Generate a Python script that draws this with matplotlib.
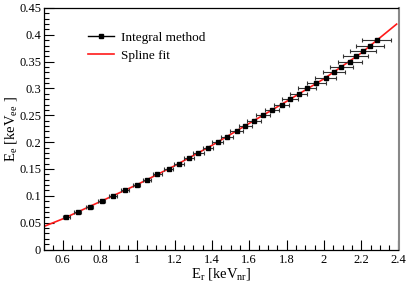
import matplotlib
matplotlib.use("Agg")
import matplotlib.pyplot as plt
from matplotlib.ticker import MultipleLocator, FuncFormatter
from matplotlib.lines import Line2D

plt.rcParams['font.family'] = ['Liberation Serif', 'DejaVu Serif']
plt.rcParams['mathtext.fontset'] = 'custom'
plt.rcParams['mathtext.rm'] = 'Liberation Serif'
plt.rcParams['mathtext.it'] = 'Liberation Serif:italic'

# Integral method points
ee_vals = [0.06, 0.07, 0.08, 0.09, 0.10, 0.11, 0.12, 0.13, 0.14, 0.15, 0.16, 0.17,
           0.18, 0.19, 0.20, 0.21, 0.22, 0.23, 0.24, 0.25, 0.26, 0.27, 0.28, 0.29,
           0.30, 0.31, 0.32, 0.33, 0.34, 0.35, 0.36, 0.37, 0.38, 0.39]
er_vals = [0.619, 0.680, 0.746, 0.809, 0.871, 0.934, 0.996, 1.054, 1.107, 1.168, 1.224, 1.278,
           1.328, 1.380, 1.430, 1.481, 1.532, 1.579, 1.626, 1.674, 1.722, 1.773, 1.819, 1.865,
           1.912, 1.960, 2.011, 2.054, 2.094, 2.138, 2.170, 2.209, 2.247, 2.284]
er_errs = [0.018, 0.018, 0.019, 0.019, 0.020, 0.020, 0.021, 0.022, 0.023, 0.024, 0.025, 0.026,
           0.027, 0.028, 0.030, 0.031, 0.033, 0.034, 0.036, 0.037, 0.040, 0.041, 0.044, 0.046,
           0.048, 0.052, 0.056, 0.059, 0.062, 0.064, 0.067, 0.071, 0.074, 0.077]

# Spline fit knots
spline_er = [0.50, 0.60, 0.80, 1.00, 1.20, 1.40, 1.60, 1.80, 2.00, 2.20, 2.39]
spline_ee = [0.043, 0.057, 0.089, 0.121, 0.156, 0.194, 0.235, 0.276, 0.318, 0.366, 0.420]

series_labels = ['Integral method', 'Spline fit']

fig = plt.figure(figsize=(4.07, 2.84), dpi=100)
ax = fig.add_axes([44/407, 1-249.5/284, (398.5-44)/407, (249.5-8)/284])

ax.errorbar(er_vals, ee_vals, xerr=er_errs, fmt='s', color='black', ms=3.2,
            ecolor='#333333', elinewidth=0.8, capsize=1.5, capthick=0.8, zorder=3)
ax.plot(spline_er, spline_ee, color='#ff1a1a', lw=1.2, zorder=2)

ax.set_xlim(0.5, 2.4)
ax.set_ylim(0, 0.45)
ax.xaxis.set_major_locator(MultipleLocator(0.2))
ax.xaxis.set_minor_locator(MultipleLocator(0.05))
ax.yaxis.set_major_locator(MultipleLocator(0.05))
ax.yaxis.set_minor_locator(MultipleLocator(0.01))

def fmt(v, pos):
    return ('%.2f' % v).rstrip('0').rstrip('.')
ax.xaxis.set_major_formatter(FuncFormatter(fmt))
ax.yaxis.set_major_formatter(FuncFormatter(fmt))

ax.tick_params(which='both', direction='in', top=False, right=False, labelsize=9,
               width=0.8, colors='black')
ax.tick_params(which='major', length=7)
ax.tick_params(which='minor', length=3.5)
ax.tick_params(axis='x', pad=3)
ax.tick_params(axis='y', pad=2)
for s in ['left', 'bottom', 'top']:
    ax.spines[s].set_linewidth(0.9)
ax.spines['right'].set_color('#888888')
ax.spines['right'].set_linewidth(1.5)

ax.set_xlabel(r'E$_{\mathrm{r}}$ [keV$_{\mathrm{nr}}$]', fontsize=10.5, labelpad=0)
ax.set_ylabel(r'E$_{\mathrm{e}}$ [keV$_{\mathrm{ee}}$ ]', fontsize=10.5, labelpad=0)

handles = [Line2D([], [], color='black', lw=1, marker='s', ms=3),
           Line2D([], [], color='#ff1a1a', lw=1.2)]
ax.legend(handles, series_labels, loc='upper left', bbox_to_anchor=(0.108, 0.925),
          frameon=False, fontsize=9.5, handlelength=2.0, handletextpad=0.5,
          labelspacing=0.45, borderaxespad=0)

fig.savefig('out.png', dpi=100)
